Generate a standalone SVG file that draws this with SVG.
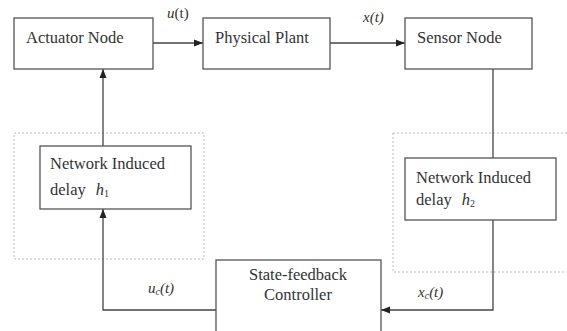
<svg xmlns="http://www.w3.org/2000/svg" width="567" height="331" viewBox="0 0 567 331" font-family="'Liberation Serif', 'DejaVu Serif', serif">
  <style>
    .box { fill: #fff; stroke: #555; stroke-width: 1.3; }
    .zone { fill: none; stroke: #bbb; stroke-width: 1; stroke-dasharray: 2 2; }
    .wire { fill: none; stroke: #444; stroke-width: 1.3; }
    text { font-family: 'Liberation Serif', 'DejaVu Serif', serif; fill: #333; }
    .lbl { font-size: 16.5px; }
    .sig { font-size: 15px; }
    .it { font-style: italic; }
  </style>
  <defs>
    <marker id="arrow" markerWidth="10" markerHeight="8" refX="9" refY="4" orient="auto" markerUnits="userSpaceOnUse">
      <path d="M0,0.5 L9,4 L0,7.5 Z" fill="#222"/>
    </marker>
  </defs>
  <rect width="567" height="331" fill="#fff"/>

  <!-- network zones -->
  <rect class="zone" x="14" y="133" width="190" height="126"/>
  <rect class="zone" x="393" y="133" width="180" height="139"/>

  <!-- connectors -->
  <g id="connectors">
    <line class="wire" x1="153" y1="43" x2="203" y2="43" marker-end="url(#arrow)"/>
    <line class="wire" x1="330" y1="43" x2="405" y2="43" marker-end="url(#arrow)"/>
    <line class="wire" x1="493" y1="69" x2="493" y2="158"/>
    <polyline class="wire" points="493,220 493,310 381,310" marker-end="url(#arrow)"/>
    <polyline class="wire" points="216,310 103,310 103,209" marker-end="url(#arrow)"/>
    <line class="wire" x1="103" y1="146" x2="103" y2="69" marker-end="url(#arrow)"/>
    <text class="sig" x="167" y="18"><tspan class="it">u</tspan>(t)</text>
    <text class="sig it" x="363" y="22">x(t)</text>
    <text class="sig it" x="148" y="293">u<tspan font-size="10" dy="2">c</tspan><tspan dy="-2">(t)</tspan></text>
    <text class="sig it" x="418" y="297">x<tspan font-size="10" dy="2">c</tspan><tspan dy="-2">(t)</tspan></text>
  </g>

  <g id="actuator">
    <rect class="box" x="14" y="18" width="139" height="51"/>
    <text class="lbl" x="26" y="43">Actuator Node</text>
  </g>
  <g id="plant">
    <rect class="box" x="203" y="18" width="127" height="51"/>
    <text class="lbl" x="215" y="43">Physical Plant</text>
  </g>
  <g id="sensor">
    <rect class="box" x="405" y="18" width="127" height="51"/>
    <text class="lbl" x="417" y="43">Sensor Node</text>
  </g>
  <g id="delay1">
    <rect class="box" x="40" y="146" width="151" height="63"/>
    <text class="lbl" x="50" y="169">Network Induced</text>
    <text class="lbl" x="50" y="195">delay <tspan class="it" dx="6">h</tspan><tspan font-size="10" dy="2">1</tspan></text>
  </g>
  <g id="delay2">
    <rect class="box" x="405" y="158" width="151" height="62"/>
    <text class="lbl" x="416" y="183">Network Induced</text>
    <text class="lbl" x="416" y="205">delay <tspan class="it" dx="6">h</tspan><tspan font-size="10" dy="2">2</tspan></text>
  </g>
  <g id="controller">
    <rect class="box" x="216" y="260" width="165" height="90"/>
    <text class="lbl" x="298" y="280" text-anchor="middle">State-feedback</text>
    <text class="lbl" x="298" y="300" text-anchor="middle">Controller</text>
  </g>
</svg>
